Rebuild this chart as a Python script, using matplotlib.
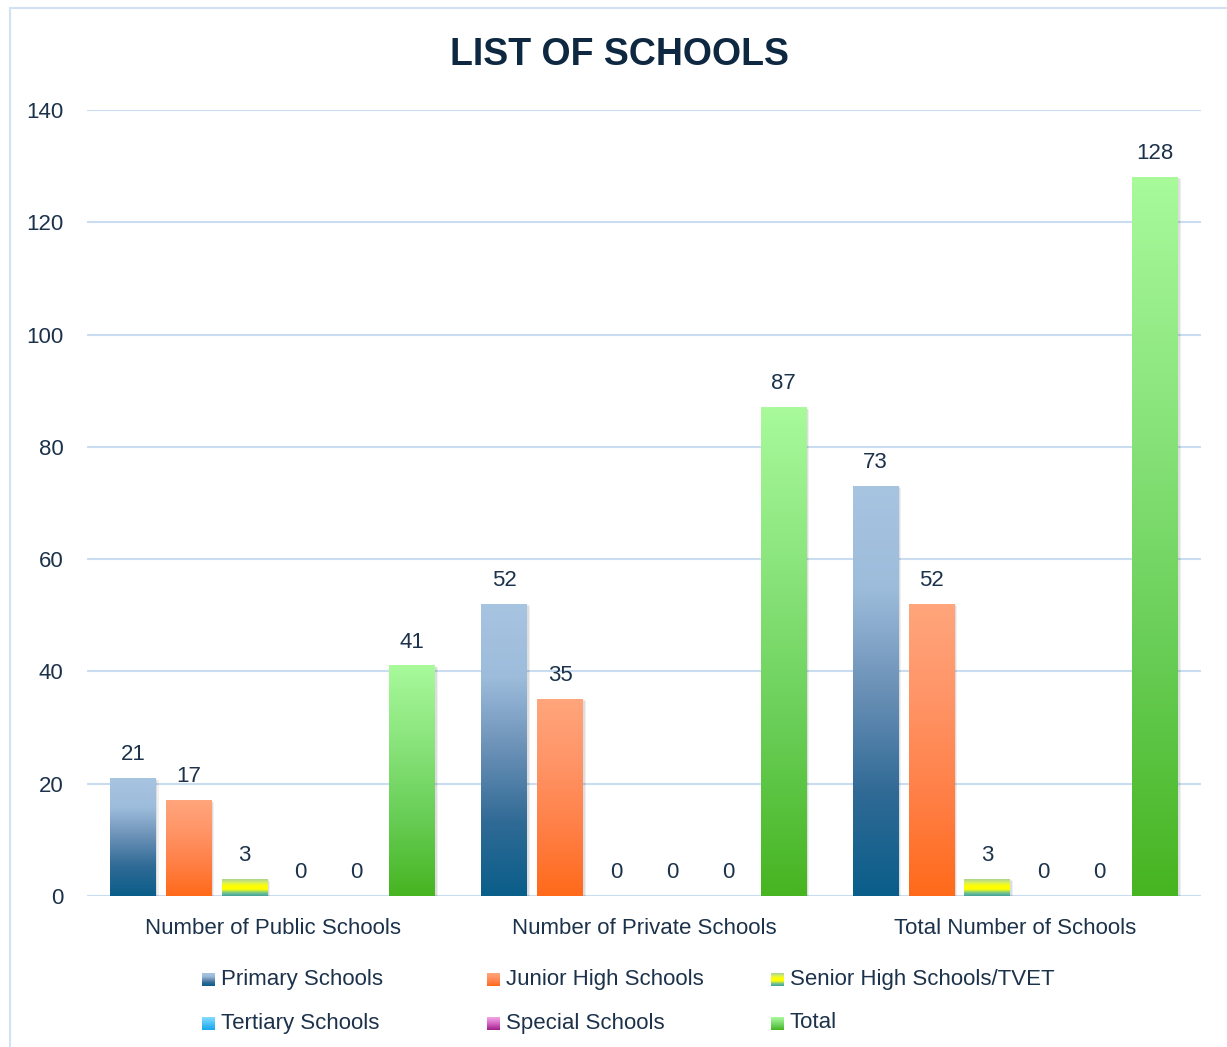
import numpy as np
import matplotlib.pyplot as plt
from matplotlib.colors import LinearSegmentedColormap
from matplotlib.patches import Rectangle


CATEGORIES = ["Number of Public Schools", "Number of Private Schools", "Total Number of Schools"]
SERIES = ["Primary Schools", "Junior High Schools", "Senior High Schools/TVET",
          "Tertiary Schools", "Special Schools", "Total"]
PRIMARY = [21, 52, 73]
JUNIOR = [17, 35, 52]
SENIOR = [3, 0, 3]
TERTIARY = [0, 0, 0]
SPECIAL = [0, 0, 0]
TOTAL = [41, 87, 128]
Y_TICKS = [0, 20, 40, 60, 80, 100, 120, 140]

# gradient stops for each series, top of the bar first
GRADIENTS = [
    ["#a7c4e1", "#9dbcdb", "#6a90b6", "#2f6a95", "#0a5e8a"],
    ["#ffa57c", "#ff9466", "#ff7f45", "#ff6a1a"],
    ["#a9d28e", "#d8ef60", "#ffff00", "#ffff00", "#7cc88a", "#3fa0a0"],
    ["#86dcff", "#4cc2f7", "#18a5ee"],
    ["#f4a6e4", "#d464c4", "#a0208a"],
    ["#a8fa9b", "#8ae47c", "#67cd55", "#47b421"],
]
TEXT = "#1c324b"
GRID = "#c9dcf0"

SLOT = 56 / 372
WIDTH = 46 / 372


def gradient_bar(ax, x, h, cmap):
    if h <= 0:
        return
    # soft drop shadow to the right and below
    for k, a in [(0.012, 0.06), (0.007, 0.08)]:
        ax.add_patch(Rectangle((x - WIDTH / 2 + k * 0.6, -0.3), WIDTH, h + 0.3 - k * 25,
                               color="black", alpha=a, lw=0, zorder=2))
    grad = np.linspace(0, 1, 256).reshape(-1, 1)
    ax.imshow(grad, cmap=cmap, aspect="auto", zorder=3,
              extent=(x - WIDTH / 2, x + WIDTH / 2, 0, h), interpolation="bilinear")


def main():
    plt.rcParams["font.family"] = ["Liberation Sans", "DejaVu Sans"]
    fig = plt.figure(figsize=(12.27, 10.47), dpi=100)

    # outer chart frame
    fig.patches.append(Rectangle((10 / 1227, -0.1), 1.2, 1 - 8 / 1047 + 0.1,
                                 transform=fig.transFigure, fill=False,
                                 ec="#d3e2f2", lw=1.5))

    ax = fig.add_axes([87 / 1227, 151 / 1047, 1114 / 1227, 786 / 1047])
    values = [PRIMARY, JUNIOR, SENIOR, TERTIARY, SPECIAL, TOTAL]
    cmaps = [LinearSegmentedColormap.from_list(f"g{i}", g) for i, g in enumerate(GRADIENTS)]

    xs = np.arange(len(CATEGORIES))
    for i, (vals, cmap) in enumerate(zip(values, cmaps)):
        for c, v in zip(xs, vals):
            x = c + (i - 2.5) * SLOT
            gradient_bar(ax, x, v, cmap)
            ax.annotate(f"{v}", (x, v), xytext=(0, 17), textcoords="offset points",
                        ha="center", va="center", fontsize=16, color=TEXT, zorder=5)

    ax.set_xlim(-0.5, 2.5)
    ax.set_ylim(0, 140)
    ax.set_yticks(Y_TICKS)
    ax.set_xticks(xs)
    ax.set_xticklabels(CATEGORIES)
    ax.tick_params(axis="both", length=0, labelsize=16, labelcolor=TEXT)
    ax.tick_params(axis="y", pad=17)
    ax.tick_params(axis="x", pad=16)
    ax.grid(axis="y", color=GRID, lw=1.5, zorder=0)
    ax.set_axisbelow(True)
    for s in ax.spines.values():
        s.set_visible(False)

    fig.text(620 / 1227, 1 - 55 / 1047, "LIST OF SCHOOLS", ha="center", va="center",
             fontsize=27, fontweight="bold", color="#0e2841")

    # legend, three per row
    lax = fig.add_axes([0, 0, 1, 1])
    lax.axis("off")
    for i, (name, cmap) in enumerate(zip(SERIES, cmaps)):
        col, row = i % 3, i // 3
        x0 = 208 + col * 284.5
        y0 = 979 + row * 44
        grad = np.linspace(0, 1, 64).reshape(-1, 1)
        lax.imshow(grad, cmap=cmap, aspect="auto",
                   extent=(x0 - 6, x0 + 7, y0 + 7, y0 - 6))
        lax.text(x0 + 13, y0, name, ha="left", va="center", fontsize=16, color=TEXT)
    lax.set_xlim(0, 1227)
    lax.set_ylim(1047, 0)

    fig.savefig("out.png", dpi=100)


if __name__ == "__main__":
    main()
